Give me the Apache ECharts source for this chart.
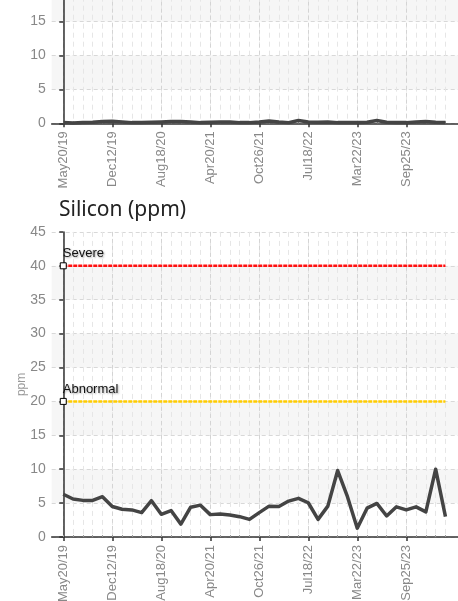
<!DOCTYPE html>
<html><head><meta charset="utf-8">
<script src="https://cdn.jsdelivr.net/npm/echarts@6/dist/echarts.min.js"></script>
<style>html,body{margin:0;padding:0;background:#fff;overflow:hidden}#c{width:458px;height:601px}</style>
</head><body><div id="c"></div>
<script>
// ---- data ----
const tickLabels = ['May20/19','Dec12/19','Aug18/20','Apr20/21','Oct26/21','Jul18/22','Mar22/23','Sep25/23'];
const tickStep = 5;
const siliconValues = [6.3,5.6,5.4,5.4,5.95,4.5,4.1,4.0,3.6,5.35,3.35,3.9,1.9,4.4,4.7,3.3,3.4,3.25,3.0,2.6,3.6,4.55,4.5,5.3,5.7,5.05,2.6,4.55,9.8,5.95,1.3,4.25,4.95,3.1,4.45,4.0,4.45,3.7,10.0,3.0];
const upperValues = [0.1,0.05,0.1,0.15,0.25,0.3,0.2,0.1,0.1,0.15,0.2,0.25,0.25,0.2,0.1,0.15,0.2,0.2,0.1,0.1,0.2,0.35,0.2,0.1,0.4,0.2,0.15,0.2,0.1,0.1,0.1,0.15,0.4,0.15,0.1,0.1,0.2,0.25,0.15,0.1];
const severeLevel = 40;
const abnormalLevel = 20;
const upperMax = 20;
const siliconMax = 45;

// ---- layout ----
const narrow = "'Liberation Sans Narrow','Liberation Sans',Arial,sans-serif";
const pxPerUnit = 6.78;
const xMin = -1.18, xMax = 40.28;
const allIdx = siliconValues.map((_, i) => i);
const majorIdx = tickLabels.map((_, k) => k * tickStep);

function xPair(g) {
  return [
    { type: 'value', gridIndex: g, position: 'bottom', min: xMin, max: xMax,
      axisLine: { show: false }, axisLabel: { show: false },
      axisTick: { show: true, inside: true, length: 2, customValues: allIdx, lineStyle: { color: '#999', width: 1 } },
      splitLine: { show: true, lineStyle: { color: '#e6e6e6', type: [5, 4], width: 1 } } },
    { type: 'value', gridIndex: g, position: 'bottom', min: xMin, max: xMax,
      axisLine: { show: true, onZero: false, lineStyle: { color: '#333', width: 1.5 } },
      axisTick: { show: true, length: 4, customValues: majorIdx, lineStyle: { color: '#333', width: 1.5 } },
      axisLabel: { customValues: majorIdx, rotate: 90, margin: 8, color: '#888',
        fontFamily: narrow, fontSize: 13,
        formatter: v => tickLabels[Math.round(v / tickStep)] },
      splitLine: { show: true, lineStyle: { color: '#d4d4d4', type: [4, 3], width: 1 } } }
  ];
}
function yAx(g, max, name) {
  return { type: 'value', gridIndex: g, min: 0, max: max, interval: 5,
    name: name, nameLocation: 'middle', nameGap: 24, nameMoveOverlap: false,
    nameTextStyle: { color: '#999', fontSize: 12, fontFamily: narrow },
    axisLine: { show: true, lineStyle: { color: '#333', width: 1.5 } },
    axisTick: { show: true, length: 4, lineStyle: { color: '#333', width: 1.5 } },
    axisLabel: { color: '#888', fontFamily: narrow, fontSize: 14, margin: 6 },
    splitLine: { show: true, lineStyle: { color: '#d8d8d8', type: [4, 3], width: 1 } },
    splitArea: { show: true, areaStyle: { color: ['rgba(255,255,255,0)', '#f6f6f6'] } } };
}
function threshold(level, color, text) {
  return { type: 'line', xAxisIndex: 3, yAxisIndex: 1, silent: true, z: 3,
    showSymbol: true, showAllSymbol: true,
    lineStyle: { color: color, width: 2.5, type: [4, 1] },
    itemStyle: { color: '#fff', borderColor: '#000', borderWidth: 1 },
    data: allIdx.map(i => i === 0 ? {
      value: [i, level], symbol: 'rect', symbolSize: 6,
      label: { show: true, formatter: text, position: [3, -15], color: '#111',
        fontFamily: narrow, fontSize: 13,
        textShadowColor: 'rgba(0,0,0,0.35)', textShadowBlur: 2, textShadowOffsetX: 1, textShadowOffsetY: 1 }
    } : { value: [i, level], symbol: 'none' })
  };
}

const siliconBottom = 537, siliconTop = siliconBottom - siliconMax * pxPerUnit;
const upperBottom = 123.3, upperTop = upperBottom - upperMax * pxPerUnit;

const chart = echarts.init(document.getElementById('c'));
chart.setOption({
  animation: false,
  title: { text: 'Silicon (ppm)', left: 54, top: 195,
    textStyle: { fontFamily: "'Noto Sans',sans-serif", fontSize: 21, fontWeight: 'normal', color: '#222' } },
  grid: [
    { left: 51.7, right: 0, top: upperTop, height: upperBottom - upperTop, outerBoundsMode: 'none', containLabel: false },
    { left: 51.7, right: 0, top: siliconTop, height: siliconBottom - siliconTop, outerBoundsMode: 'none', containLabel: false }
  ],
  xAxis: [...xPair(0), ...xPair(1)],
  yAxis: [yAx(0, upperMax, ''), yAx(1, siliconMax, 'ppm')],
  series: [
    { type: 'line', xAxisIndex: 1, yAxisIndex: 0, showSymbol: false, z: 4,
      lineStyle: { color: '#444', width: 3.5 },
      data: upperValues.map((v, i) => [i, v]) },
    threshold(severeLevel, '#ff1010', 'Severe'),
    threshold(abnormalLevel, '#ffcc00', 'Abnormal'),
    { type: 'line', xAxisIndex: 3, yAxisIndex: 1, showSymbol: false, z: 4,
      lineStyle: { color: '#444', width: 3.5, join: 'round' },
      data: siliconValues.map((v, i) => [i, v]) }
  ]
});
</script></body></html>
